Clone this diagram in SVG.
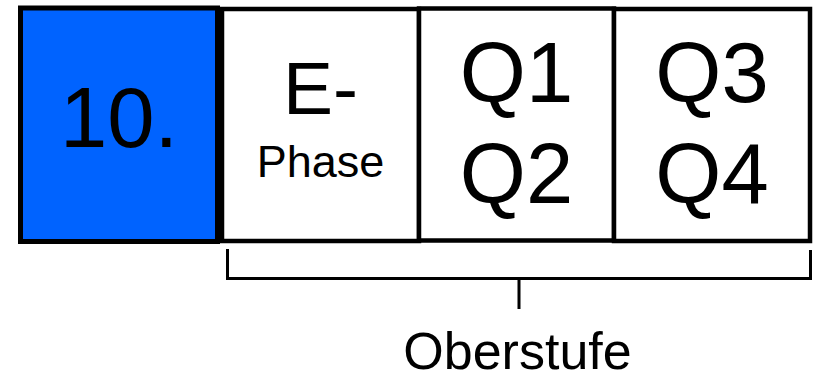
<svg xmlns="http://www.w3.org/2000/svg" width="816" height="374" viewBox="0 0 816 374">
<style>
.box{fill:#fff;stroke:#000;stroke-width:4.5}
.t{font-family:"Liberation Sans",Arial,sans-serif;fill:#000;text-anchor:middle}
.br{fill:none;stroke:#000;stroke-width:3}
</style>
<rect width="816" height="374" fill="#fff"/>
<g id="n10">
<rect x="20.5" y="8" width="197" height="233.5" fill="#0063ff" stroke="#000" stroke-width="5"/>
<text class="t" x="119" y="147" font-size="85">10.</text>
</g>
<g id="ephase">
<rect class="box" x="222" y="9" width="197" height="232"/>
<text class="t" x="320.5" y="114" font-size="75">E-</text>
<text class="t" x="320.5" y="177" font-size="45">Phase</text>
</g>
<g id="q12">
<rect class="box" x="419" y="8.5" width="195" height="232"/>
<text class="t" x="516.5" y="102" font-size="85">Q1</text>
<text class="t" x="516.5" y="203" font-size="85">Q2</text>
</g>
<g id="q34">
<rect class="box" x="614" y="9" width="196" height="232"/>
<text class="t" x="712" y="102" font-size="85">Q3</text>
<text class="t" x="712" y="203" font-size="85">Q4</text>
</g>
<g id="connectors">
<path class="br" d="M227.5 249 V278.5 H810.5 V250 M519 278.5 V309"/>
</g>
<g id="oberstufe">
<text class="t" x="517.5" y="369" font-size="52">Oberstufe</text>
</g>
</svg>
